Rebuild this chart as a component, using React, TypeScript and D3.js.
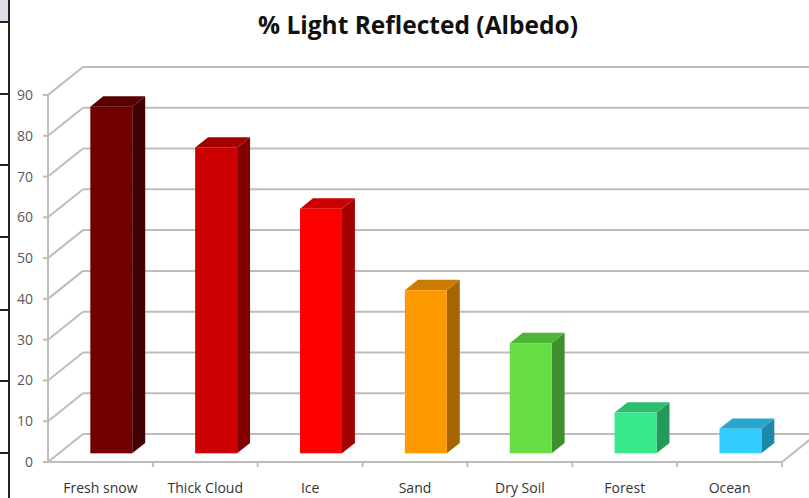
import React from "react";
import * as d3 from "d3";

const categories = ["Fresh snow", "Thick Cloud", "Ice", "Sand", "Dry Soil", "Forest", "Ocean"];
const values = [85, 75, 60, 40, 27, 10, 6];
const frontColors = ["#730000", "#cc0000", "#ff0000", "#ff9900", "#66dd44", "#38e88a", "#33ccff"];
const topColors = ["#5a0000", "#a30000", "#cc0000", "#cc7a00", "#4fb536", "#2cbd70", "#29a5cf"];
const sideColors = ["#420000", "#820000", "#a30000", "#a86400", "#3f8f2f", "#239a5a", "#1f87aa"];
const yTicks = [0, 10, 20, 30, 40, 50, 60, 70, 80, 90];
const title = "% Light Reflected (Albedo)";
const sheetRows = [22, 94, 165, 237, 310, 381, 453];

const W = 809;
const H = 498;
const left = 48;
const right = 782;
const top = 95;
const bottom = 462;
const DX = 35;
const DY = -28;
const zF = 0.31;
const zB = 0.68;

export default function App() {
  const x = d3.scaleBand<string>().domain(categories).range([left, right]).paddingInner(0).paddingOuter(0);
  const y = d3.scaleLinear().domain([0, 90]).range([bottom, top]);
  const bw = x.bandwidth();
  const grid = "#bdbdbd";
  const fF = [DX * zF, DY * zF];
  const fB = [DX * zB, DY * zB];
  const font = "Open Sans, Lato, sans-serif";

  return (
    <svg width={W} height={H} style={{ position: "absolute", left: 0, top: 0, background: "#fff" }}>
      {/* spreadsheet edge */}
      <rect x={0} y={0} width={8} height={22} fill="#dcdde8" />
      <line x1={9} x2={9} y1={0} y2={H} stroke="#222" strokeWidth={2} />
      {sheetRows.map((r, i) => (
        <line key={i} x1={0} x2={9} y1={r} y2={r} stroke="#222" strokeWidth={2} />
      ))}

      <text x={418} y={34} textAnchor="middle" fontFamily={font} fontWeight="bold" fontSize={24.5} fill="#111">
        {title}
      </text>

      {/* back wall gridlines and side wall */}
      {yTicks.map((t) => (
        <g key={t}>
          <line x1={left + DX} x2={right + DX + 40} y1={y(t) + DY} y2={y(t) + DY} stroke={grid} strokeWidth={2} />
          <line x1={left} x2={left + DX} y1={y(t)} y2={y(t) + DY} stroke={grid} strokeWidth={2} />
          <line x1={left - 5} x2={left} y1={y(t)} y2={y(t)} stroke={grid} strokeWidth={2} />
          <text x={33} y={y(t) + 5} textAnchor="end" fontFamily={font} fontSize={14} fill="#595959">
            {t}
          </text>
        </g>
      ))}
      {/* front axis and floor */}
      <line x1={left} x2={left} y1={top} y2={bottom} stroke={grid} strokeWidth={2} />
      <line x1={left} x2={right} y1={bottom} y2={bottom} stroke={grid} strokeWidth={2} />
      <line x1={right} x2={right + DX} y1={bottom} y2={bottom + DY} stroke={grid} strokeWidth={2} />
      {categories.map((c) => (
        <line key={c} x1={(x(c) as number) + bw} x2={(x(c) as number) + bw} y1={bottom} y2={bottom + 5} stroke={grid} strokeWidth={2} />
      ))}

      {/* bars */}
      {categories.map((c, i) => {
        const x0 = (x(c) as number) + bw * 0.3;
        const x1 = x0 + bw * 0.4;
        const yT = y(values[i]);
        const yB = y(0);
        const p = (px: number, py: number, o: number[]) => `${px + o[0]},${py + o[1]}`;
        return (
          <g key={c}>
            <polygon points={[p(x1, yT, fF), p(x1, yT, fB), p(x1, yB, fB), p(x1, yB, fF)].join(" ")} fill={sideColors[i]} />
            <polygon points={[p(x0, yT, fF), p(x0, yT, fB), p(x1, yT, fB), p(x1, yT, fF)].join(" ")} fill={topColors[i]} />
            <rect x={x0 + fF[0]} y={yT + fF[1]} width={x1 - x0} height={yB - yT} fill={frontColors[i]} />
          </g>
        );
      })}

      {categories.map((c) => (
        <text key={c} x={(x(c) as number) + bw / 2} y={493} textAnchor="middle" fontFamily={font} fontSize={14} fill="#333">
          {c}
        </text>
      ))}
    </svg>
  );
}
